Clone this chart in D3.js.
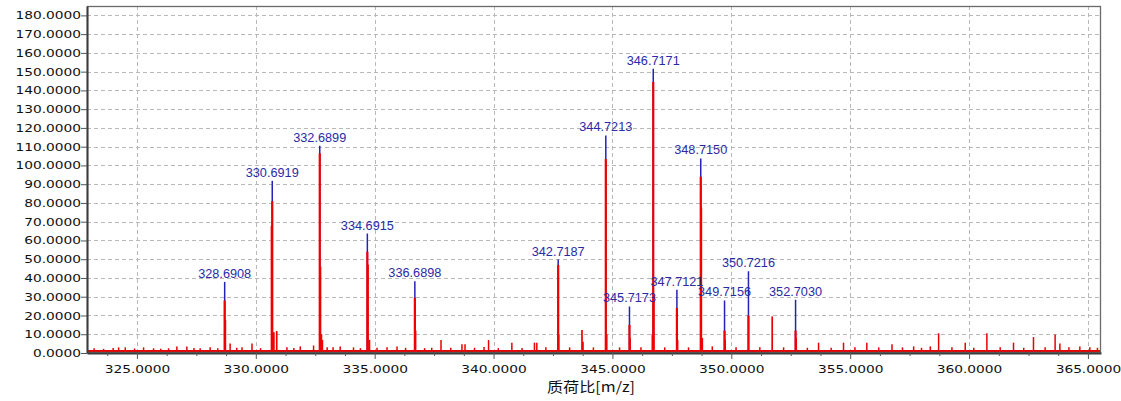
<!DOCTYPE html>
<html>
<head>
<meta charset="utf-8">
<script src="https://cdn.jsdelivr.net/npm/d3@7"></script>
<style>
  body { margin: 0; background: #fff; }
  svg { display: block; }
</style>
</head>
<body>
<svg id="chart"></svg>
<script>
// labelled peaks: m/z, label, blue marker height, red profile apex
const peakMz = [328.6908, 330.6919, 332.6899, 334.6915, 336.6898, 342.7187, 344.7213,
  345.7173, 346.7171, 347.7121, 348.7150, 349.7156, 350.7216, 352.7030];
const peakLabel = ['328.6908', '330.6919', '332.6899', '334.6915', '336.6898', '342.7187', '344.7213',
  '345.7173', '346.7171', '347.7121', '348.7150', '349.7156', '350.7216', '352.7030'];
const peakTop = [37.9, 91.8, 110.5, 63.7, 38.2, 49.8, 116.0, 24.8, 151.6, 33.7, 103.7, 28.0, 43.6, 28.4];
const peakBody = [28.0, 81.0, 106.5, 54.0, 29.5, 47.0, 103.4, 15.0, 144.5, 24.0, 94.0, 12.0, 20.0, 12.0];

// unlabelled shoulders / side peaks [m/z, intensity]
const sidePeaks = [
  [328.72, 17.7], [330.66, 67.7], [330.76, 11], [330.88, 11.7], [332.72, 46], [332.76, 10],
  [332.80, 7], [334.72, 47], [334.78, 7], [336.72, 12], [342.74, 9.6], [343.72, 12.3],
  [343.76, 6], [344.76, 10], [345.74, 8], [346.68, 10], [346.745, 31], [347.74, 7],
  [348.74, 77.5], [348.78, 8], [349.74, 7], [351.72, 19.5], [352.73, 8]
];

// baseline noise spikes [m/z, intensity]
const noise = [
  [323.2, 2.5], [323.6, 2.2], [324.0, 2.6], [324.23, 3], [324.51, 3], [324.9, 2.4], [325.28, 3],
  [325.7, 2.5], [326.0, 2.3], [326.33, 2.5], [326.68, 3.5], [327.1, 3.5], [327.4, 2.6],
  [327.66, 2.5], [328.08, 3], [328.4, 2.5], [328.92, 5], [329.2, 2.8], [329.42, 3], [329.84, 5],
  [330.2, 2.6], [331.31, 3], [331.6, 2.6], [331.87, 3.5], [332.43, 4], [333.0, 3], [333.25, 3],
  [333.55, 3.5], [334.11, 3], [334.4, 2.6], [335.1, 2.8], [335.52, 3], [335.94, 3.5], [336.3, 2.8],
  [337.1, 2.6], [337.4, 2.8], [337.79, 6.9], [338.2, 2.8], [338.67, 4.6], [338.8, 4.6], [339.2, 2.8],
  [339.6, 3.2], [339.79, 6.9], [340.2, 2.6], [340.77, 5.5], [341.2, 2.6], [341.72, 5.5],
  [341.82, 5.5], [342.2, 3], [343.2, 3], [344.2, 3], [345.3, 3], [346.2, 3], [347.2, 3],
  [348.2, 3], [349.2, 3.5], [350.2, 3], [351.2, 3], [352.2, 3], [353.2, 2.8], [353.67, 5.5],
  [354.2, 2.8], [354.72, 5.5], [355.2, 3], [355.7, 5.5], [356.2, 3], [356.76, 4.6], [357.2, 3],
  [357.67, 3.5], [358.0, 2.8], [358.37, 3.5], [358.72, 10.5], [359.28, 3], [359.84, 5.5],
  [360.2, 2.8], [360.75, 10.5], [361.31, 3], [361.87, 5.5], [362.3, 2.8], [362.71, 8.5],
  [363.2, 3], [363.62, 9.8], [363.82, 5], [364.2, 3], [364.66, 3.5], [365.08, 3], [365.4, 2.8]
];
const noiseFloor = 1.6;

const xTicks = [325, 330, 335, 340, 345, 350, 355, 360, 365];
const xMinorStep = 1.25;
const yTicks = [0, 10, 20, 30, 40, 50, 60, 70, 80, 90, 100, 110, 120, 130, 140, 150, 160, 170, 180];
const xDomain = [322.9, 365.55];
const yDomain = [0, 185];
const xTitle = '质荷比[m/z]';

const W = 1121, H = 401;
const margin = { top: 6, right: 20, bottom: 48, left: 87 };
const iw = W - margin.left - margin.right;
const ih = H - margin.top - margin.bottom;

const svg = d3.select('#chart').attr('width', W).attr('height', H);
const g = svg.append('g').attr('transform', `translate(${margin.left},${margin.top})`);

const x = d3.scaleLinear().domain(xDomain).range([0, iw]);
const y = d3.scaleLinear().domain(yDomain).range([ih, 0]);

g.append('clipPath').attr('id', 'plot-clip')
  .append('rect').attr('width', iw).attr('height', ih);

// dashed grid
const grid = g.append('g').attr('stroke', '#b8b8b8').attr('stroke-dasharray', '4,3').attr('stroke-width', 1);
grid.selectAll('.gx').data(xTicks).join('line')
  .attr('x1', d => Math.round(x(d)) + 0.5).attr('x2', d => Math.round(x(d)) + 0.5)
  .attr('y1', 0).attr('y2', ih);
grid.selectAll('.gy').data(yTicks.filter(d => d > 0)).join('line')
  .attr('x1', 0).attr('x2', iw)
  .attr('y1', d => Math.round(y(d)) + 0.5).attr('y2', d => Math.round(y(d)) + 0.5);

const plot = g.append('g').attr('clip-path', 'url(#plot-clip)');

// baseline noise band
plot.append('rect')
  .attr('x', x(xDomain[0])).attr('width', x(xDomain[1]) - x(xDomain[0]))
  .attr('y', y(noiseFloor)).attr('height', y(0) - y(noiseFloor))
  .attr('fill', '#e80000');

plot.append('g').attr('stroke', '#e80000').attr('stroke-width', 1.5)
  .selectAll('line').data(noise).join('line')
  .attr('x1', d => x(d[0])).attr('x2', d => x(d[0]))
  .attr('y1', y(0)).attr('y2', d => y(d[1]));

// blue peak markers
const peaks = peakMz.map((mz, i) => ({ mz, label: peakLabel[i], top: peakTop[i], body: peakBody[i] }));
plot.append('g').attr('stroke', '#2323b4').attr('stroke-width', 1.5)
  .selectAll('line').data(peaks).join('line')
  .attr('x1', d => x(d.mz)).attr('x2', d => x(d.mz))
  .attr('y1', y(0)).attr('y2', d => y(d.top));

// red profile sticks
plot.append('g').attr('stroke', '#ee0000').attr('stroke-width', 1.7)
  .selectAll('line').data(sidePeaks).join('line')
  .attr('x1', d => x(d[0])).attr('x2', d => x(d[0]))
  .attr('y1', y(0)).attr('y2', d => y(d[1]));
plot.append('g').attr('stroke', '#ee0000').attr('stroke-width', 2.2)
  .selectAll('line').data(peaks).join('line')
  .attr('x1', d => x(d.mz)).attr('x2', d => x(d.mz))
  .attr('y1', y(0)).attr('y2', d => y(d.body));

// peak labels
g.append('g').selectAll('text').data(peaks).join('text')
  .attr('transform', d => `translate(${x(d.mz)},${y(d.top) - 4}) scale(1.06,1)`)
  .attr('text-anchor', 'middle')
  .attr('font-family', 'Liberation Sans, Arial, sans-serif')
  .attr('font-size', 12)
  .attr('fill', '#2a2aa6')
  .text(d => d.label);

// frame
g.append('rect').attr('x', 0.5).attr('y', 0.5).attr('width', iw - 1).attr('height', ih - 1)
  .attr('fill', 'none').attr('stroke', '#6a6a6a').attr('stroke-width', 1.3);

// axes
const fmt = d3.format('.4f');
const xAxis = g.append('g').attr('transform', `translate(0,${ih})`)
  .call(d3.axisBottom(x).tickValues(xTicks).tickFormat(fmt).tickSize(6).tickSizeOuter(0));
const minor = d3.range(323.75, 365.6, xMinorStep).filter(v => !xTicks.includes(v));
g.append('g').attr('transform', `translate(0,${ih})`)
  .call(d3.axisBottom(x).tickValues(minor).tickFormat('').tickSize(3).tickSizeOuter(0))
  .call(a => a.select('.domain').remove())
  .selectAll('line').attr('stroke', '#555');

const yAxis = g.append('g')
  .call(d3.axisLeft(y).tickValues(yTicks).tickFormat(fmt).tickSize(6).tickSizeOuter(0));

[xAxis, yAxis].forEach(a => {
  a.select('.domain').attr('stroke', '#3c3c3c').attr('stroke-width', 2);
  a.selectAll('.tick line').attr('stroke', '#555');
  a.selectAll('text')
    .attr('font-family', 'DejaVu Sans, Verdana, sans-serif')
    .attr('font-size', 11)
    .attr('fill', '#111');
});
xAxis.selectAll('text').attr('y', 20).attr('dy', 0).attr('transform', 'scale(1.25,1)');
yAxis.selectAll('text').attr('x', -6 / 1.25).attr('transform', 'scale(1.25,1)');

// x title
svg.append('text')
  .attr('transform', `translate(${margin.left + x(344.1)},${H - 9}) scale(1.15,1)`)
  .attr('text-anchor', 'middle')
  .attr('font-family', 'Noto Sans CJK SC, sans-serif')
  .attr('font-size', 14)
  .attr('fill', '#111')
  .text(xTitle);
</script>
</body>
</html>
